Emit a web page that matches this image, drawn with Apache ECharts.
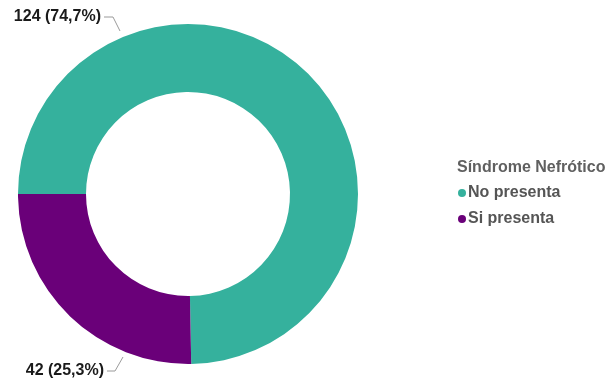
<!DOCTYPE html>
<html>
<head>
<meta charset="utf-8">
<script src="https://cdn.jsdelivr.net/npm/echarts@6/dist/echarts.min.js"></script>
<style>
  html, body { margin: 0; padding: 0; background: #fff; }
  #chart { width: 609px; height: 387px; }
</style>
</head>
<body>
<div id="chart"></div>
<script>
// Síndrome nefrótico: número de casos por categoría
const categories = ['No presenta', 'Si presenta'];
const counts = [124, 42];
const colors = ['#35B19D', '#6A0079'];
const legendTitle = 'Síndrome Nefrótico';

const total = counts.reduce((a, b) => a + b, 0);
const fmtPct = v => (v / total * 100).toFixed(1).replace('.', ',');

const FONT = '"Liberation Sans", Arial, sans-serif';

const chart = echarts.init(document.getElementById('chart'), null, { renderer: 'canvas' });

// label anchors placed on the left side of the ring, top and bottom
const labelPlacement = [
  { x: 101, y: 17, line: [[120, 31], [113, 17], [104, 17]] },
  { x: 104, y: 371, line: [[123, 357], [115, 371], [107, 371]] }
];

chart.setOption({
  animation: false,
  title: {
    text: legendTitle,
    left: 452,
    top: 155,
    textStyle: { fontFamily: FONT, fontSize: 16, fontWeight: 'bold', color: '#606060' }
  },
  legend: {
    orient: 'vertical',
    left: 453,
    top: 180,
    icon: 'circle',
    itemWidth: 8,
    itemHeight: 8,
    itemGap: 10,
    data: categories,
    textStyle: { fontFamily: FONT, fontSize: 16, fontWeight: 'bold', color: '#555555', padding: [0, 0, 0, -3] }
  },
  series: [{
    type: 'pie',
    center: [188, 194],
    radius: [102, 170],
    startAngle: 180,
    clockwise: true,
    avoidLabelOverlap: false,
    data: categories.map((c, i) => ({ name: c, value: counts[i], itemStyle: { color: colors[i] } })),
    label: {
      show: true,
      formatter: p => p.value + ' (' + fmtPct(p.value) + '%)',
      fontFamily: FONT,
      fontSize: 16,
      fontWeight: 'bold',
      color: '#1a1a1a'
    },
    labelLine: {
      show: true,
      lineStyle: { color: '#9a9a9a', width: 1 }
    },
    labelLayout: params => {
      const p = labelPlacement[params.dataIndex];
      return {
        x: p.x,
        y: p.y,
        align: 'right',
        verticalAlign: 'middle',
        labelLinePoints: p.line
      };
    },
    emphasis: { disabled: true }
  }]
});
</script>
</body>
</html>
